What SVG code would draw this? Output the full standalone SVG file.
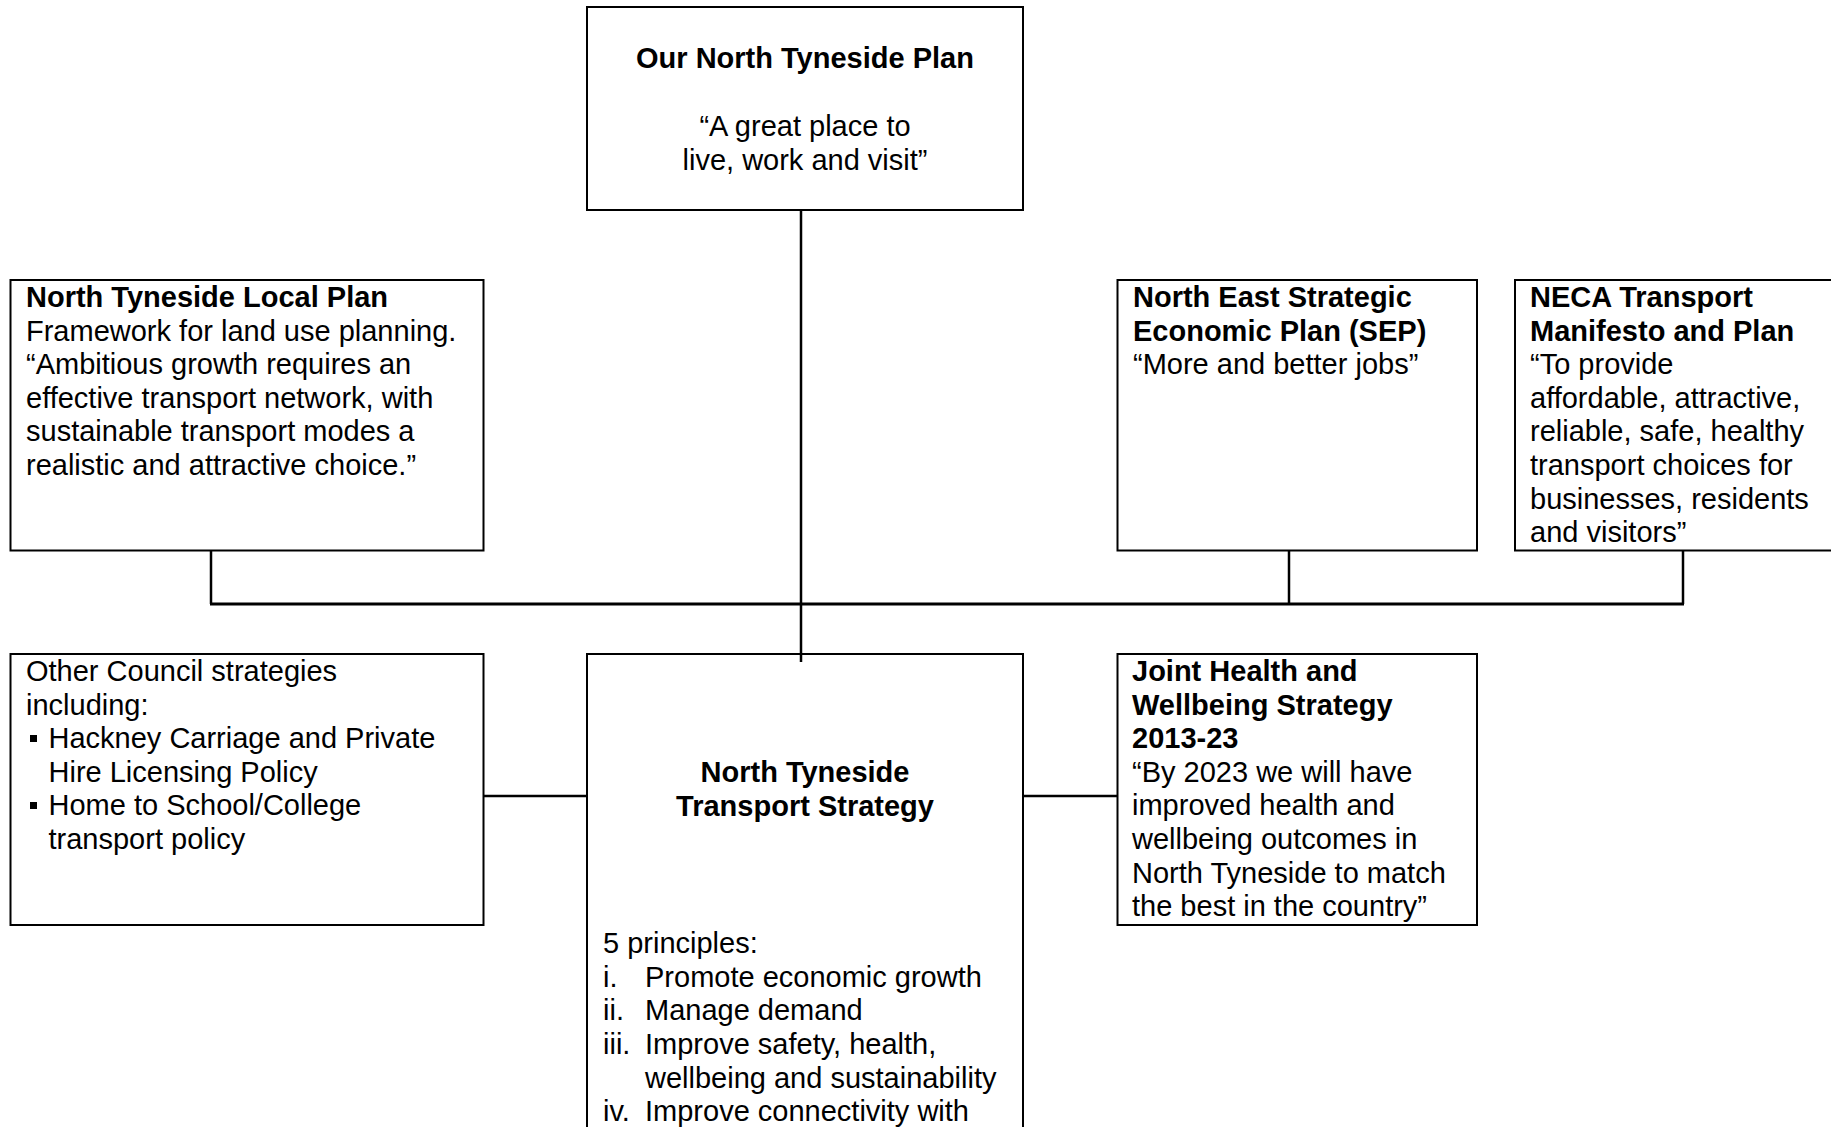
<svg xmlns="http://www.w3.org/2000/svg" width="1831" height="1127" viewBox="0 0 1831 1127">
<style>
  .box { fill: #ffffff; stroke: #000000; stroke-width: 2; }
  .conn { fill: none; stroke: #000000; stroke-width: 2.5; }
  .bus { fill: none; stroke: #000000; stroke-width: 3; }
  text { font-family: "Liberation Sans", Arial, sans-serif; font-size: 29px; fill: #000000; }
  .b { font-weight: bold; }
  .c { text-anchor: middle; }
  .bullet { fill: #000000; }
</style>
<rect x="0" y="0" width="1831" height="1127" fill="#ffffff"/>

<g id="our-plan">
  <rect class="box" x="587" y="7" width="436" height="203"/>
  <text class="b c" x="805" y="68">Our North Tyneside Plan</text>
  <text class="c" x="805" y="136">“A great place to</text>
  <text class="c" x="805" y="170">live, work and visit”</text>
</g>

<g id="local-plan">
  <rect class="box" x="10.5" y="280" width="473" height="270.5"/>
  <text x="26" y="307"><tspan class="b">North Tyneside Local Plan</tspan><tspan x="26" dy="33.6">Framework for land use planning.</tspan><tspan x="26" dy="33.6">“Ambitious growth requires an</tspan><tspan x="26" dy="33.6">effective transport network, with</tspan><tspan x="26" dy="33.6">sustainable transport modes a</tspan><tspan x="26" dy="33.6">realistic and attractive choice.”</tspan></text>
</g>

<g id="sep">
  <rect class="box" x="1117.5" y="280" width="359.5" height="270.5"/>
  <text x="1133" y="307"><tspan class="b">North East Strategic</tspan><tspan class="b" x="1133" dy="33.6">Economic Plan (SEP)</tspan><tspan x="1133" dy="33.6">“More and better jobs”</tspan></text>
</g>

<g id="neca">
  <rect class="box" x="1515" y="280" width="330" height="270.5"/>
  <text x="1530" y="307"><tspan class="b">NECA Transport</tspan><tspan class="b" x="1530" dy="33.6">Manifesto and Plan</tspan><tspan x="1530" dy="33.6">“To provide</tspan><tspan x="1530" dy="33.6">affordable, attractive,</tspan><tspan x="1530" dy="33.6">reliable, safe, healthy</tspan><tspan x="1530" dy="33.6">transport choices for</tspan><tspan x="1530" dy="33.6">businesses, residents</tspan><tspan x="1530" dy="33.6">and visitors”</tspan></text>
</g>

<g id="other-strategies">
  <rect class="box" x="10.5" y="654" width="473" height="271"/>
  <text x="26" y="681"><tspan>Other Council strategies</tspan><tspan x="26" dy="33.6">including:</tspan><tspan x="48.5" dy="33.6">Hackney Carriage and Private</tspan><tspan x="48.5" dy="33.6">Hire Licensing Policy</tspan><tspan x="48.5" dy="33.6">Home to School/College</tspan><tspan x="48.5" dy="33.6">transport policy</tspan></text>
  <rect class="bullet" x="30" y="735" width="7" height="7"/>
  <rect class="bullet" x="30" y="802" width="7" height="7"/>
</g>

<g id="transport-strategy">
  <rect class="box" x="587" y="654" width="436" height="520"/>
  <text class="b c" x="805" y="782">North Tyneside</text>
  <text class="b c" x="805" y="816">Transport Strategy</text>
  <text x="603" y="953">5 principles:</text>
  <text x="603" y="987">i.</text>
  <text x="645" y="987">Promote economic growth</text>
  <text x="603" y="1020">ii.</text>
  <text x="645" y="1020">Manage demand</text>
  <text x="603" y="1054">iii.</text>
  <text x="645" y="1054">Improve safety, health,</text>
  <text x="645" y="1088">wellbeing and sustainability</text>
  <text x="603" y="1121">iv.</text>
  <text x="645" y="1121">Improve connectivity with</text>
</g>

<g id="health-wellbeing">
  <rect class="box" x="1117.5" y="654" width="359.5" height="271"/>
  <text x="1132" y="681"><tspan class="b">Joint Health and</tspan><tspan class="b" x="1132" dy="33.6">Wellbeing Strategy</tspan><tspan class="b" x="1132" dy="33.6">2013-23</tspan><tspan x="1132" dy="33.6">“By 2023 we will have</tspan><tspan x="1132" dy="33.6">improved health and</tspan><tspan x="1132" dy="33.6">wellbeing outcomes in</tspan><tspan x="1132" dy="33.6">North Tyneside to match</tspan><tspan x="1132" dy="33.6">the best in the country”</tspan></text>
</g>

<g id="connectors">
  <line class="conn" x1="801" y1="210" x2="801" y2="662"/>
  <line class="bus" x1="210" y1="604" x2="1684" y2="604"/>
  <line class="conn" x1="211" y1="550" x2="211" y2="604"/>
  <line class="conn" x1="1289" y1="550" x2="1289" y2="604"/>
  <line class="conn" x1="1683" y1="550" x2="1683" y2="604"/>
  <line class="conn" x1="483" y1="796" x2="587" y2="796"/>
  <line class="conn" x1="1023" y1="796" x2="1117" y2="796"/>
</g>
</svg>
